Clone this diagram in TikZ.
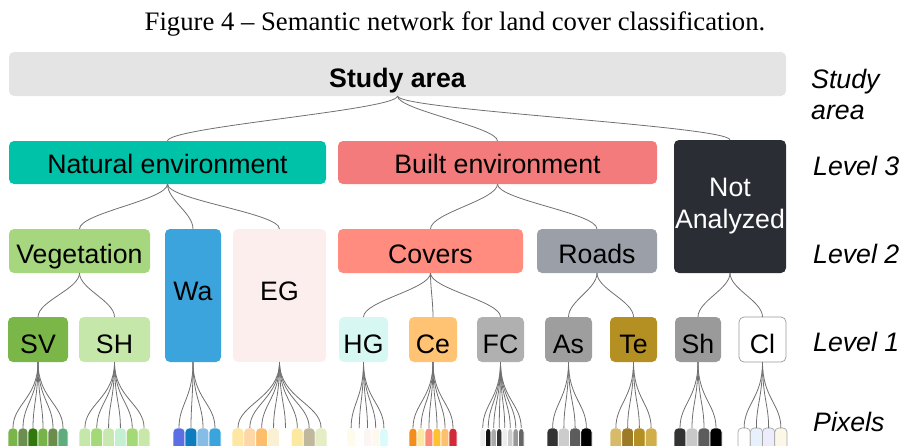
\documentclass[tikz,border=0pt]{standalone}
\usepackage{fontspec}
\setmainfont{Liberation Sans}
\newfontfamily\titlefont{Liberation Serif}
\usetikzlibrary{calc}
\newcommand\bx[8]{\node[box, fill=#6, minimum width={#3-#2}, minimum height={#5-#4}, #7] (#1) at ({(#2+#3)/2},{(#4+#5)/2}) {#8};}
\newcommand\cn[3]{\draw[conn] (#1.south) .. controls ($(#1.south)+(0,#3)$) and ($(#2.north)+(0,-#3)$) .. (#2.north);}
\newcommand\leaves[6]{%
  \pgfmathsetmacro\lw{(#3-#2)/#4}%
  \foreach \lcol [count=\i] in {#5} {%
    \pgfmathsetmacro\xc{#2+(\i-0.5)*\lw}%
    \edef\tmpdef{\noexpand\definecolor{lc}{HTML}{\lcol}}\tmpdef
    \node[leaf, fill=lc, minimum width=\lw, #6] (#1-\i) at (\xc,445) {};
    \draw[conn] (#1.south) .. controls ($(#1.south)+(0,36)$) and ($(#1-\i.north)+(0,-24)$) .. (#1-\i.north);
  }}
\definecolor{cstudy}{HTML}{E4E4E4}
\definecolor{cnat}{HTML}{00C2A8}
\definecolor{cbuilt}{HTML}{F47B7B}
\definecolor{cna}{HTML}{2A2D34}
\definecolor{cveg}{HTML}{A6D67E}
\definecolor{cwa}{HTML}{3BA4DC}
\definecolor{ceg}{HTML}{FDEEEE}
\definecolor{ccov}{HTML}{FF8C7E}
\definecolor{croads}{HTML}{9A9FA8}
\definecolor{csv}{HTML}{7AB648}
\definecolor{csh}{HTML}{C5E8AA}
\definecolor{chg}{HTML}{D6F7F2}
\definecolor{cce}{HTML}{FFC373}
\definecolor{cfc}{HTML}{B0B0B0}
\definecolor{cas}{HTML}{9E9E9E}
\definecolor{cte}{HTML}{B48F22}
\definecolor{cshd}{HTML}{9A9A9A}
\definecolor{cline}{HTML}{707070}
\begin{document}
\begin{tikzpicture}[x=1pt,y=-1pt,
  box/.style={rounded corners=5pt, inner sep=0pt, outer sep=0pt, font=\fontsize{26.7}{32}\selectfont, text=black, align=center, text height=21pt, text depth=0pt},
  lv2/.style={text height=24pt, text depth=0pt},
  lv1/.style={text height=27pt, text depth=0pt},
  leaf/.style={rounded corners=4pt, inner sep=0pt, outer sep=0pt, minimum height=34pt, draw=white, line width=0.7pt},
  conn/.style={draw=cline, line width=0.8pt},
  lvl/.style={anchor=west, font=\fontsize{26.7}{31}\selectfont\itshape, align=left, inner sep=0pt}]
\useasboundingbox (0,0) rectangle (900,445);
\clip (0,0) rectangle (900,445);

\node[font=\titlefont\fontsize{26.7}{30}\selectfont, inner sep=0pt] (title) at (455,24) {Figure 4 – Semantic network for land cover classification.};

% study area
\bx{study}{9}{786}{52}{96}{cstudy}{font=\fontsize{26.7}{31}\selectfont\bfseries, text height=26pt}{Study area}
% level 3
\bx{nat}{9}{326}{141}{184}{cnat}{}{Natural environment}
\bx{built}{338}{657}{141}{184}{cbuilt}{}{Built environment}
\bx{na}{674}{786}{140}{273}{cna}{text=white, text height={}, text depth={}}{Not\\Analyzed}
% level 2
\bx{veg}{9}{150}{229}{273}{cveg}{lv2}{Vegetation}
\bx{wa}{165}{221}{229}{362}{cwa}{text height=20pt, text depth=11pt}{Wa}
\bx{eg}{233}{326}{229}{362}{ceg}{text height=20pt, text depth=11pt}{EG}
\bx{cov}{338}{523}{229}{273}{ccov}{lv2}{Covers}
\bx{roads}{537}{657}{229}{273}{croads}{lv2}{Roads}
% level 1
\bx{sv}{8}{68}{317}{362}{csv}{lv1}{SV}
\bx{sh}{79}{150}{317}{362}{csh}{lv1}{SH}
\bx{hg}{339}{388}{317}{362}{chg}{lv1}{HG}
\bx{ce}{409}{457}{317}{362}{cce}{lv1}{Ce}
\bx{fc}{477}{524}{317}{362}{cfc}{lv1}{FC}
\bx{as}{545}{592}{317}{362}{cas}{lv1}{As}
\bx{te}{610}{657}{317}{362}{cte}{lv1}{Te}
\bx{shd}{675}{721}{317}{362}{cshd}{lv1}{Sh}
\bx{cl}{739}{786}{317}{362}{white}{lv1, draw=black!40, line width=0.7pt}{Cl}

% connectors
\cn{study}{nat}{14}
\cn{study}{built}{14}
\cn{study}{na}{14}
\cn{nat}{veg}{16}
\cn{nat}{wa}{16}
\cn{nat}{eg}{16}
\cn{built}{cov}{16}
\cn{built}{roads}{16}
\cn{veg}{sv}{16}
\cn{veg}{sh}{16}
\cn{cov}{hg}{16}
\cn{cov}{ce}{16}
\cn{cov}{fc}{16}
\cn{roads}{as}{16}
\cn{roads}{te}{16}
\cn{na}{shd}{16}
\cn{na}{cl}{16}

% pixels
\leaves{sv}{8}{68}{6}{7AB54A,6B8F4E,31780F,76B44A,6C8C4C,5FAD7E}{}
\leaves{sh}{79}{150}{6}{C5E8AA,A3D977,C8E8B0,C3F0D2,A3D977,C8E8AA}{}
\leaves{wa}{173}{221}{4}{5B6EE6,0D7DC0,85BDE6,3BA4DC}{}
\leaves{eg}{232}{327}{8}{FDE7A2,FDD8A6,FDBE6C,FAF0D3,FFFFFF,FDE8A0,C0B89C,E5EDC4}{}
\leaves{hg}{347}{388}{5}{FEFBEA,FEFEFE,FBF5F3,FDF9EE,D9FBFB}{}
\leaves{ce}{409}{457}{6}{F28E1C,FDE8A0,FB8B7C,FEC22F,FDC070,D12B3A}{}
\leaves{fc}{480}{524}{8}{EEEEEE,111111,AAAAAA,333333,EEEEEE,CCCCCC,999999,666666}{}
\leaves{as}{547}{592}{4}{333333,CCCCCC,5C5C5C,000000}{}
\leaves{te}{610}{657}{4}{D8BB6A,9C7A27,B48F22,D0AE4A}{}
\leaves{shd}{674}{722}{4}{333333,C8C8C8,5C5C5C,000000}{}
\leaves{cl}{738}{787}{4}{FEFEFE,E8F0FC,ECECFC,FBF8E8}{draw=black!35}

% level labels
\node[lvl] (lstudy) at (811,94) {Study\\area};
\node[lvl] (l3) at (813,166) {Level 3};
\node[lvl] (l2) at (813,254) {Level 2};
\node[lvl] (l1) at (813,342) {Level 1};
\node[lvl] (lpx) at (813,422) {Pixels};
\end{tikzpicture}
\end{document}
